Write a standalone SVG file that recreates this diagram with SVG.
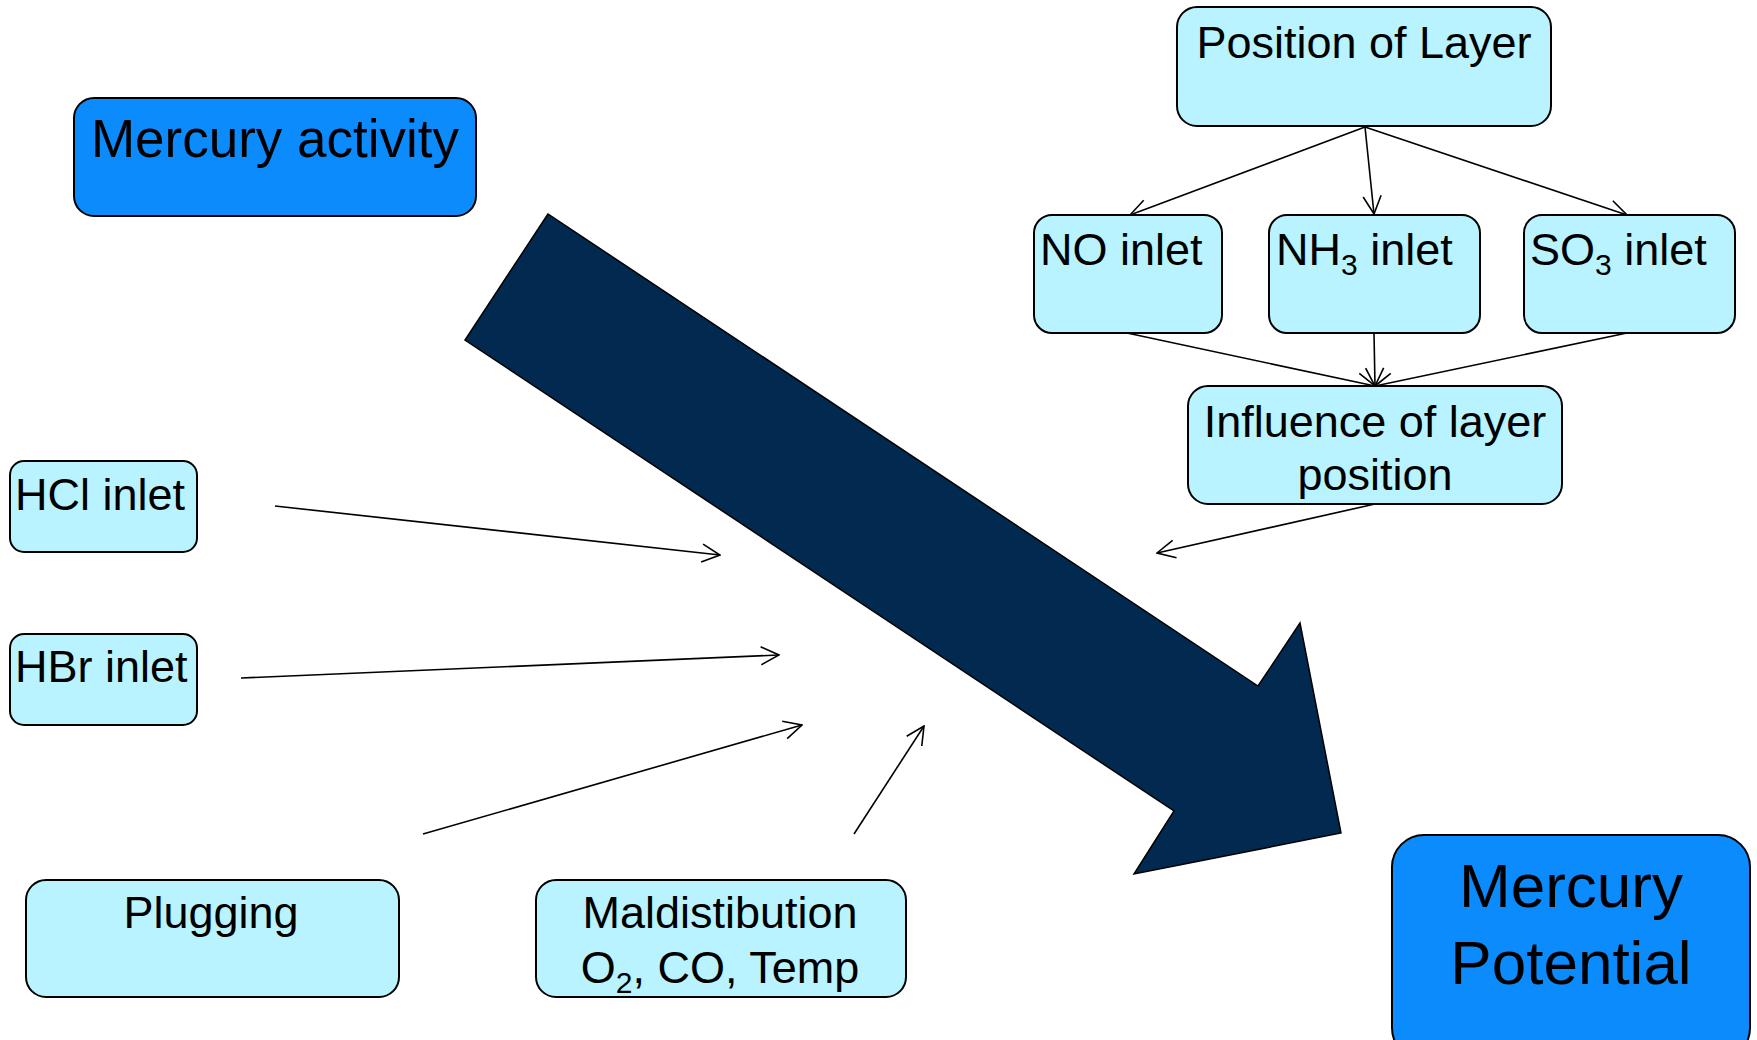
<svg xmlns="http://www.w3.org/2000/svg" width="1757" height="1040" viewBox="0 0 1757 1040">
<style>
.box{fill:#b8f3ff;stroke:#000;stroke-width:2}
.main{fill:#0c8bfd;stroke:#000;stroke-width:2}
text{font-family:"Liberation Sans",Arial,sans-serif;fill:#000}
.t44{font-size:45px}
.t45{font-size:45px}
.mid{text-anchor:middle}
.sub{font-size:30px}
.con{stroke:#000;stroke-width:1.6;fill:none;marker-end:url(#arr)}
</style>
<defs>
<marker id="arr" viewBox="0 0 20 20" markerWidth="20" markerHeight="20" refX="19" refY="10" orient="auto" markerUnits="userSpaceOnUse">
<path d="M1,1 L19,10 L1,19" fill="none" stroke="#000" stroke-width="1.6"/>
</marker>
</defs>
<rect width="1757" height="1040" fill="#fff"/>
<g id="big-arrow">
<polygon points="548,214 465,340 1174,811 1134,874 1341,833 1300,623 1258,686" fill="#02294f" stroke="#000" stroke-width="1.5"/>
</g>
<g id="connectors">
<line class="con" x1="1365" y1="127" x2="1130" y2="215"/>
<line class="con" x1="1365" y1="127" x2="1374" y2="214"/>
<line class="con" x1="1365" y1="127" x2="1627" y2="215"/>
<line class="con" x1="1127" y1="333" x2="1375" y2="386"/>
<line class="con" x1="1374" y1="333" x2="1375" y2="386"/>
<line class="con" x1="1627" y1="333" x2="1375" y2="386"/>
<line class="con" x1="1375" y1="504" x2="1157" y2="553"/>
<line class="con" x1="275" y1="506" x2="720" y2="555"/>
<line class="con" x1="241" y1="678" x2="779" y2="655"/>
<line class="con" x1="423" y1="834" x2="802" y2="725"/>
<line class="con" x1="854" y1="834" x2="924" y2="726"/>
</g>
<g id="mercury-activity">
<rect class="main" x="74" y="98" width="402" height="118" rx="20"/>
<text class="mid" x="275" y="157" font-size="53">Mercury activity</text>
</g>
<g id="position-of-layer">
<rect class="box" x="1177" y="7" width="374" height="119" rx="20"/>
<text class="mid t45" x="1364" y="58">Position of Layer</text>
</g>
<g id="no-inlet">
<rect class="box" x="1034" y="215" width="188" height="118" rx="18"/>
<text class="t44" x="1040" y="265">NO inlet</text>
</g>
<g id="nh3-inlet">
<rect class="box" x="1269" y="215" width="211" height="118" rx="18"/>
<text class="t44" x="1276" y="265">NH<tspan class="sub" dy="10">3</tspan><tspan dy="-10"> inlet</tspan></text>
</g>
<g id="so3-inlet">
<rect class="box" x="1524" y="215" width="211" height="118" rx="18"/>
<text class="t44" x="1530" y="265">SO<tspan class="sub" dy="10">3</tspan><tspan dy="-10"> inlet</tspan></text>
</g>
<g id="influence">
<rect class="box" x="1188" y="386" width="374" height="118" rx="20"/>
<text class="mid t44" x="1375" y="437">Influence of layer</text>
<text class="mid t44" x="1375" y="490">position</text>
</g>
<g id="hcl-inlet">
<rect class="box" x="10" y="461" width="187" height="91" rx="14"/>
<text class="t44" x="15" y="510">HCl inlet</text>
</g>
<g id="hbr-inlet">
<rect class="box" x="10" y="634" width="187" height="91" rx="14"/>
<text class="t44" x="15" y="682">HBr inlet</text>
</g>
<g id="plugging">
<rect class="box" x="26" y="880" width="373" height="117" rx="20"/>
<text class="mid t44" x="211" y="928">Plugging</text>
</g>
<g id="maldistribution">
<rect class="box" x="536" y="880" width="370" height="117" rx="20"/>
<text class="mid t44" x="720" y="928">Maldistibution</text>
<text class="mid t44" x="720" y="983">O<tspan class="sub" dy="10">2</tspan><tspan dy="-10">, CO, Temp</tspan></text>
</g>
<g id="mercury-potential">
<rect class="main" x="1392" y="835" width="358" height="225" rx="32"/>
<text class="mid" x="1571" y="907" font-size="62">Mercury</text>
<text class="mid" x="1571" y="984" font-size="62">Potential</text>
</g>
</svg>
